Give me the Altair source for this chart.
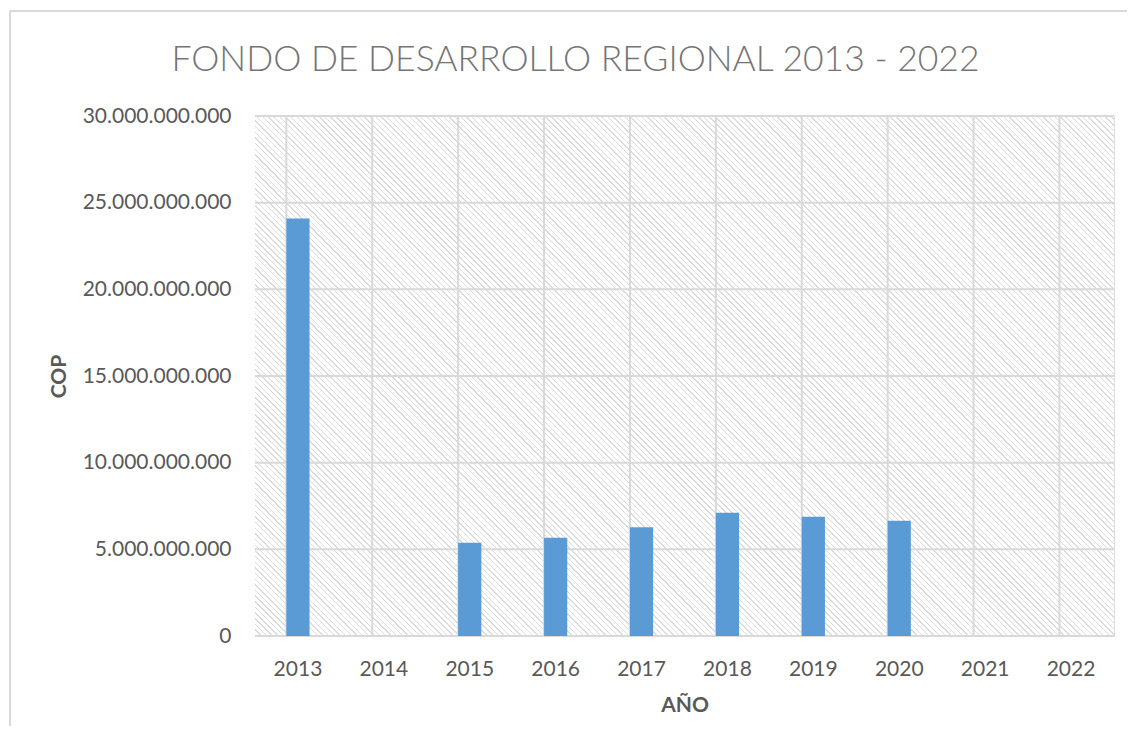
import math
import altair as alt
import pandas as pd

# ---- data ----
years = ["2013", "2014", "2015", "2016", "2017", "2018", "2019", "2020", "2021", "2022"]
values = [24.09e9, 0, 5.38e9, 5.67e9, 6.27e9, 7.11e9, 6.88e9, 6.65e9, 0, 0]
y_ticks = [0, 5e9, 10e9, 15e9, 20e9, 25e9, 30e9]

TITLE = "FONDO DE DESARROLLO REGIONAL 2013 - 2022"
X_TITLE = "AÑO"
Y_TITLE = "COP"

# ---- layout / style ----
W, H = 859, 520
GRID = "#d9d9d9"
TXT = "#595959"
FONT = "Lato"

df = pd.DataFrame({"year": years, "value": values})
ticks_df = pd.DataFrame({"value": y_ticks})

# hatch pattern as a striped linear gradient (45 degree "\" lines)
period, stripe = 4.0, 1.0
D = (W + H) / math.sqrt(2)
stops = []
k = 0
while True:
    a = k * period / D
    b = (k * period + stripe) / D
    if a >= 1:
        break
    b = min(b, 1.0)
    stops += [
        alt.GradientStop(offset=a, color="#ffffff"),
        alt.GradientStop(offset=a, color="#dcdcdc"),
        alt.GradientStop(offset=b, color="#dcdcdc"),
        alt.GradientStop(offset=b, color="#ffffff"),
    ]
    k += 1
stops.append(alt.GradientStop(offset=1.0, color="#ffffff"))
s = (W + H) * W / (W * W + H * H)
grad = alt.LinearGradient(gradient="linear", stops=stops, x1=0, y1=1, x2=s, y2=1 - s * H / W)

x_axis = alt.Axis(
    title=X_TITLE, labelAngle=0, ticks=False, domain=False, grid=False,
    labelFont=FONT, labelFontSize=21, labelColor=TXT, labelPadding=22,
    titleFont=FONT, titleFontSize=21, titleFontWeight="bold", titleColor=TXT,
    titleBaseline="alphabetic", titleY=75, titleX=W / 2,
)
x_scale = alt.Scale(paddingInner=0.73, paddingOuter=0.365)
y_axis = alt.Axis(
    title=Y_TITLE, values=y_ticks, format=",d", ticks=False, domain=False, grid=False,
    labelFont=FONT, labelFontSize=21, labelColor=TXT, labelPadding=24,
    titleFont=FONT, titleFontSize=21, titleFontWeight="bold", titleColor=TXT,
    titleAngle=-90, titleBaseline="alphabetic", titleAlign="center",
    titleX=-190, titleY=H / 2,
)
y_scale = alt.Scale(domain=[0, 30e9], nice=False)

one = alt.Data(values=[{"a": 1}])

frame_top = alt.Chart(one).mark_rule(color=GRID, strokeWidth=2).encode(
    x=alt.value(-245), x2=alt.value(W + 30), y=alt.value(-105)
)
frame_left = alt.Chart(one).mark_rule(color=GRID, strokeWidth=2).encode(
    x=alt.value(-245), y=alt.value(-105), y2=alt.value(H + 140)
)

hatch = alt.Chart(one).mark_rect(color=grad).encode(
    x=alt.value(0), x2=alt.value(W), y=alt.value(0), y2=alt.value(H)
)

vgrid = alt.Chart(df).mark_rule(color=GRID, strokeWidth=2).encode(
    x=alt.X("year:N", bandPosition=0, scale=x_scale, axis=x_axis, sort=years)
)
hgrid = alt.Chart(ticks_df).mark_rule(color=GRID, strokeWidth=2).encode(
    y=alt.Y("value:Q", scale=y_scale, axis=y_axis)
)
bars = alt.Chart(df).mark_bar(color="#5b9bd5").encode(
    x=alt.X("year:N", scale=x_scale, axis=x_axis, sort=years),
    y=alt.Y("value:Q", scale=y_scale, axis=y_axis),
)

chart = (
    alt.layer(frame_top, frame_left, hatch, vgrid, hgrid, bars)
    .properties(
        width=W,
        height=H,
        padding={"left": 247, "top": 108, "right": 13, "bottom": 90},
        autosize=alt.AutoSizeParams(type="none"),
        title=alt.TitleParams(
            text=TITLE, font=FONT, fontSize=35.5, fontWeight=300, color="#757575",
            anchor="middle", frame="group", dx=-109, offset=-96, baseline="alphabetic",
        ),
    )
    .configure_view(stroke=GRID, strokeWidth=2)
    .configure(locale={"number": {"decimal": ",", "thousands": ".", "grouping": [3], "currency": ["$", ""]}})
)

chart.save("out.html", embed_options={"renderer": "svg", "actions": False})
